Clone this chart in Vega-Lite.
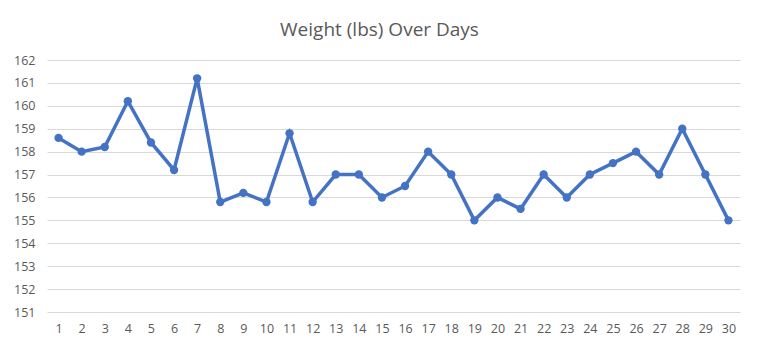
{
  "$schema": "https://vega.github.io/schema/vega-lite/v6.json",
  "width": 693,
  "height": 252,
  "autosize": {"type": "none"},
  "padding": {"left": 47, "top": 60, "right": 19, "bottom": 39},
  "background": "white",
  "title": {
    "text": "Weight (lbs) Over Days",
    "fontSize": 19,
    "font": "Open Sans",
    "fontWeight": "normal",
    "color": "#595959",
    "anchor": "middle",
    "dx": -14,
    "offset": 14
  },
  "data": {
    "values": [
      {"day": 1, "weight": 158.6},
      {"day": 2, "weight": 158.0},
      {"day": 3, "weight": 158.2},
      {"day": 4, "weight": 160.2},
      {"day": 5, "weight": 158.4},
      {"day": 6, "weight": 157.2},
      {"day": 7, "weight": 161.2},
      {"day": 8, "weight": 155.8},
      {"day": 9, "weight": 156.2},
      {"day": 10, "weight": 155.8},
      {"day": 11, "weight": 158.8},
      {"day": 12, "weight": 155.8},
      {"day": 13, "weight": 157.0},
      {"day": 14, "weight": 157.0},
      {"day": 15, "weight": 156.0},
      {"day": 16, "weight": 156.5},
      {"day": 17, "weight": 158.0},
      {"day": 18, "weight": 157.0},
      {"day": 19, "weight": 155.0},
      {"day": 20, "weight": 156.0},
      {"day": 21, "weight": 155.5},
      {"day": 22, "weight": 157.0},
      {"day": 23, "weight": 156.0},
      {"day": 24, "weight": 157.0},
      {"day": 25, "weight": 157.5},
      {"day": 26, "weight": 158.0},
      {"day": 27, "weight": 157.0},
      {"day": 28, "weight": 159.0},
      {"day": 29, "weight": 157.0},
      {"day": 30, "weight": 155.0}
    ]
  },
  "mark": {
    "type": "line",
    "color": "#4472C4",
    "strokeWidth": 3.5,
    "point": {"filled": true, "size": 70, "color": "#4472C4"}
  },
  "encoding": {
    "x": {
      "field": "day",
      "type": "ordinal",
      "scale": {"type": "point", "padding": 0.5},
      "axis": {
        "title": null,
        "labelAngle": 0,
        "labelFont": "Open Sans",
        "labelFontSize": 12.5,
        "labelColor": "#595959",
        "labelPadding": 10,
        "ticks": false,
        "domain": false,
        "grid": false
      }
    },
    "y": {
      "field": "weight",
      "type": "quantitative",
      "scale": {"domain": [151, 162], "nice": false, "zero": false},
      "axis": {
        "title": null,
        "values": [151, 152, 153, 154, 155, 156, 157, 158, 159, 160, 161, 162],
        "labelFont": "Open Sans",
        "labelFontSize": 12.5,
        "labelColor": "#595959",
        "labelPadding": 12,
        "ticks": false,
        "domain": false,
        "grid": true,
        "gridColor": "#d9d9d9",
        "gridWidth": 1
      }
    }
  },
  "config": {
    "view": {"stroke": null}
  }
}
